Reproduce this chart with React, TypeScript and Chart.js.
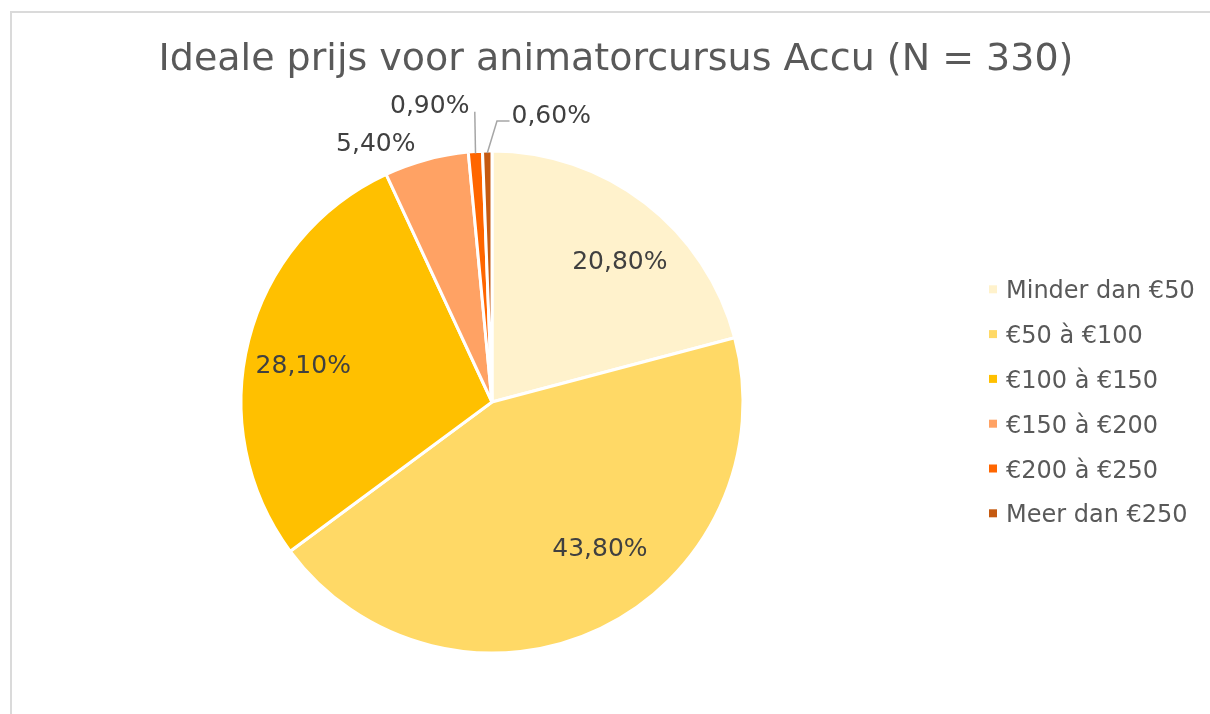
import React, { useEffect, useRef } from "react";
import { Chart, registerables } from "chart.js";

Chart.register(...registerables);

const title = "Ideale prijs voor animatorcursus Accu (N = 330)";
const categories = [
  "Minder dan €50",
  "€50 à €100",
  "€100 à €150",
  "€150 à €200",
  "€200 à €250",
  "Meer dan €250",
];
const percentages = [20.8, 43.8, 28.1, 5.4, 0.9, 0.6];
const colors = ["#FFF2CC", "#FFD966", "#FFC000", "#FFA264", "#FF6600", "#C55A11"];

// label placement: radial factor of outer radius, angle shift (deg) from slice middle
const labelPlacement = [
  { r: 0.76, da: 4.5 },
  { r: 0.72, da: -11 },
  { r: 0.767, da: -2.9 },
  { r: 1.135, da: -8.9 },
  { r: 1.214, da: -8.0, leader: { r: 1.158, da: 0.4 } },
  { r: 1.172, da: 12.7, leader: { r: 1.12, da: 2.1 } },
];

const FONT = "'DejaVu Sans', Verdana, sans-serif";

const fmt = (v: number) => v.toFixed(2).replace(".", ",") + "%";

const overlayPlugin = {
  id: "overlay",
  afterDraw(chart: any) {
    const ctx = chart.ctx as CanvasRenderingContext2D;
    const W = chart.width;
    ctx.save();
    // title
    ctx.font = `38px ${FONT}`;
    ctx.fillStyle = "#595959";
    ctx.textAlign = "center";
    ctx.textBaseline = "alphabetic";
    ctx.fillText(title, W / 2, 58.5);

    // data labels
    const meta = chart.getDatasetMeta(0);
    ctx.font = `25px ${FONT}`;
    meta.data.forEach((arc: any, i: number) => {
      const { x, y, startAngle, endAngle, outerRadius } = arc.getProps(
        ["x", "y", "startAngle", "endAngle", "outerRadius"],
        true
      );
      const mid = (startAngle + endAngle) / 2;
      const p = labelPlacement[i];
      const a = mid + (p.da * Math.PI) / 180;
      const tx = x + Math.cos(a) * outerRadius * p.r;
      const ty = y + Math.sin(a) * outerRadius * p.r;
      const text = fmt(percentages[i]);
      ctx.fillStyle = "#404040";
      ctx.textAlign = "center";
      ctx.fillText(text, tx, ty + 9);
      if (p.leader) {
        const tw = ctx.measureText(text).width;
        const ex = x + Math.cos(mid) * (outerRadius - 2);
        const ey = y + Math.sin(mid) * (outerRadius - 2);
        const la = mid + (p.leader.da * Math.PI) / 180;
        const lx = x + Math.cos(la) * outerRadius * p.leader.r;
        const ly = y + Math.sin(la) * outerRadius * p.leader.r;
        ctx.strokeStyle = "#A6A6A6";
        ctx.lineWidth = 1.5;
        ctx.beginPath();
        ctx.moveTo(ex, ey);
        ctx.lineTo(lx, ly);
        if (tx - tw / 2 > lx) ctx.lineTo(tx - tw / 2 - 2, ly);
        ctx.stroke();
      }
    });

    // legend
    ctx.textAlign = "left";
    ctx.font = `24px ${FONT}`;
    categories.forEach((c, i) => {
      const base = 287.3 + i * 44.8;
      ctx.fillStyle = colors[i];
      ctx.fillRect(979, base - 13, 8, 8);
      ctx.fillStyle = "#595959";
      ctx.fillText(c, 996, base);
    });
    ctx.restore();
  },
};

export default function App() {
  const ref = useRef<HTMLCanvasElement>(null);
  useEffect(() => {
    document.body.style.overflow = "hidden";
    const chart = new Chart(ref.current as HTMLCanvasElement, {
      type: "pie",
      data: {
        labels: categories,
        datasets: [
          {
            data: percentages,
            backgroundColor: colors,
            borderColor: "#FFFFFF",
            borderWidth: 3,
          },
        ],
      },
      options: {
        animation: false,
        responsive: true,
        maintainAspectRatio: false,
        layout: { padding: { left: 229.5, top: 138.5, right: 477.5, bottom: 59.5 } },
        plugins: {
          legend: { display: false },
          title: { display: false },
          tooltip: { enabled: false },
        },
      },
      plugins: [overlayPlugin],
    });
    return () => chart.destroy();
  }, []);
  return (
    <div
      style={{
        position: "fixed",
        left: 10,
        top: 11,
        width: 1212,
        height: 703,
        background: "#FFFFFF",
      }}
    >
      <canvas ref={ref} />
      <div
        style={{
          position: "absolute",
          left: 0,
          top: 0,
          right: 0,
          bottom: 0,
          borderLeft: "2px solid #DADADA",
          borderTop: "2px solid #DADADA",
          pointerEvents: "none",
        }}
      />
    </div>
  );
}
